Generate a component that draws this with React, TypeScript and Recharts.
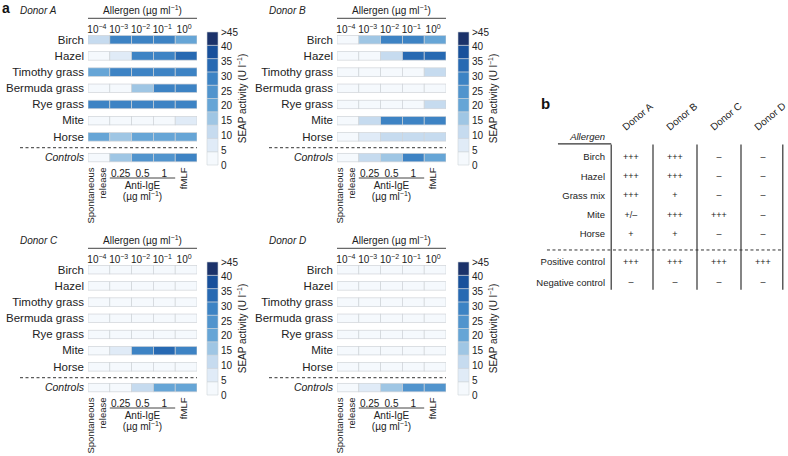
import React from 'react';
import { ScatterChart, Scatter, XAxis, YAxis, ReferenceLine, BarChart, Bar } from 'recharts';

const FONT = '"Liberation Sans", Arial, Helvetica, sans-serif';
const INK = '#222';

// ---------- data ----------
const allergens = ['Birch', 'Hazel', 'Timothy grass', 'Bermuda grass', 'Rye grass', 'Mite', 'Horse'];
const controlsName = 'Controls';
const concExponents = ['−4', '−3', '−2', '−1', '0'];
const controlTicks = ['Spontaneous release', '0.25', '0.5', '1', 'fMLF'];

// SEAP activity (U/l) per allergen row, columns 10^-4 .. 10^0
const donorA = [
  [12, 32, 32, 32, 22],
  [2, 7, 32, 32, 37],
  [22, 32, 32, 32, 32],
  [2, 2, 17, 32, 32],
  [32, 32, 32, 32, 32],
  [2, 2, 2, 2, 7],
  [22, 17, 22, 22, 22],
];
const donorAControls = [2, 17, 27, 27, 32];

const donorB = [
  [2, 17, 32, 32, 22],
  [2, 2, 12, 37, 37],
  [2, 2, 2, 2, 12],
  [2, 2, 2, 2, 2],
  [2, 2, 2, 2, 12],
  [2, 12, 32, 32, 32],
  [2, 7, 12, 12, 12],
];
const donorBControls = [2, 12, 17, 32, 22];

const donorC = [
  [2, 2, 2, 2, 2],
  [2, 2, 2, 2, 2],
  [2, 2, 2, 2, 2],
  [2, 2, 2, 2, 2],
  [2, 2, 2, 2, 2],
  [2, 7, 32, 37, 32],
  [2, 2, 2, 2, 2],
];
const donorCControls = [2, 2, 12, 22, 22];

const donorD = [
  [2, 2, 2, 2, 2],
  [2, 2, 2, 2, 2],
  [2, 2, 2, 2, 2],
  [2, 2, 2, 2, 2],
  [2, 2, 2, 2, 2],
  [2, 2, 2, 2, 2],
  [2, 2, 2, 2, 2],
];
const donorDControls = [2, 7, 17, 27, 27];

const scaleLabels = ['0', '5', '10', '15', '20', '25', '30', '35', '40', '>45'];
const palette = ['#f5f9fd', '#e0ebf7', '#c6dbef', '#9fc6e4', '#66a5d6', '#5194cd', '#3d83c4', '#2769b2', '#18509b', '#1b326a'];

const tableRows = ['Birch', 'Hazel', 'Grass mix', 'Mite', 'Horse', 'Positive control', 'Negative control'];
const tableDonors = ['Donor A', 'Donor B', 'Donor C', 'Donor D'];
const tableA = ['+++', '+++', '+++', '+/–', '+', '+++', '–'];
const tableB = ['+++', '+++', '+', '+++', '+', '+++', '–'];
const tableC = ['–', '–', '–', '+++', '–', '+++', '–'];
const tableD = ['–', '–', '–', '–', '–', '+++', '–'];

// ---------- layout constants ----------
const PANEL_W = 200;
const PANEL_H = 232;
const Y_AXIS_W = 88;
const MARGIN = { top: 16, right: 3, bottom: 16, left: 0 };
const TOP_AXIS_H = 14;
const BOTTOM_AXIS_H = 50;
const PLOT_X = MARGIN.left + Y_AXIS_W;
const PLOT_W = PANEL_W - MARGIN.left - MARGIN.right - Y_AXIS_W;
const PLOT_TOP = MARGIN.top + TOP_AXIS_H;
const PLOT_BOTTOM = PANEL_H - MARGIN.bottom - BOTTOM_AXIS_H;
const COL_W = PLOT_W / 5;
const CELL_H = 8.5;
const CTRL_Y = 7.28;
const DASH_Y = 6.67;

const levelColor = (v: number) => palette[Math.min(9, Math.max(0, Math.floor(v / 5)))];

const HeatCell = (p: any) => {
  const { cx, cy, payload } = p;
  if (cx == null || cy == null) return null;
  return (
    <rect
      x={cx - COL_W / 2}
      y={cy - CELL_H / 2}
      width={COL_W}
      height={CELL_H}
      fill={levelColor(payload.v)}
      stroke="#cfd3d8"
      strokeWidth={0.7}
    />
  );
};

const TopTick = (p: any) => {
  const { x, payload } = p;
  const exp = concExponents[Math.round(payload.value)];
  return (
    <text x={x - 2} y={PLOT_TOP + 3} textAnchor="middle" fontSize={10} fill={INK} fontFamily={FONT}>
      10
      <tspan dy={-4} fontSize={7}>{exp}</tspan>
    </text>
  );
};

const BottomTick = (p: any) => {
  const { x, payload } = p;
  const y = PLOT_BOTTOM;
  const i = Math.round(payload.value);
  const lbl = controlTicks[i];
  if (i === 0) {
    const [a, b] = lbl.split(' ');
    return (
      <g fontSize={9.5} fill={INK} fontFamily={FONT}>
        <text transform={`translate(${x - 5.4},${y + 1.5}) rotate(-90)`} textAnchor="end" fill={INK}>{a}</text>
        <text transform={`translate(${x + 6.6},${y + 1.5}) rotate(-90)`} textAnchor="end" fill={INK}>{b}</text>
      </g>
    );
  }
  if (i === 4) {
    return (
      <text transform={`translate(${x + 0.5},${y + 1.5}) rotate(-90)`} textAnchor="end" fontSize={9.5} fill={INK} fontFamily={FONT}>
        {lbl}
      </text>
    );
  }
  return (
    <text x={x} y={y + 10.5} textAnchor="middle" fontSize={10} fill={INK} fontFamily={FONT}>
      {lbl}
    </text>
  );
};

const RowTick = (p: any) => {
  const { x, y, payload, rowNames } = p;
  const v = payload.value;
  const idx = rowNames.findIndex((_: string, i: number) => Math.abs(i - v) < 0.01);
  const isCtrl = idx < 0;
  return (
    <text
      x={x}
      y={y + 3.8}
      textAnchor="end"
      fontSize={isCtrl ? 10.5 : 11.5}
      fill={INK}
      fontFamily={FONT}
      fontStyle={isCtrl ? 'italic' : 'normal'}
    >
      {isCtrl ? controlsName : rowNames[idx]}
    </text>
  );
};

const TopLabel = (p: any) => {
  const x = PLOT_X;
  const y = MARGIN.top;
  return (
    <g fontFamily={FONT} fill={INK}>
      <text x={20} y={y - 2} fontSize={10} fontStyle="italic" fill={INK}>{p.donor}</text>
      <text x={x + PLOT_W / 2} y={y - 2} fontSize={10} textAnchor="middle" fill={INK}>
        Allergen (µg ml
        <tspan dy={-4} fontSize={7}>−1</tspan>
        <tspan dy={4}>)</tspan>
      </text>
      <line x1={x} x2={x + PLOT_W} y1={y + 2.3} y2={y + 2.3} stroke="#444" strokeWidth={1} />
    </g>
  );
};

const BottomLabel = () => {
  const x = PLOT_X;
  const y = PLOT_BOTTOM;
  return (
    <g fontFamily={FONT} fill={INK}>
      <line x1={x + COL_W} x2={x + 4 * COL_W} y1={y + 12} y2={y + 12} stroke="#444" strokeWidth={1} />
      <text x={x + 2.5 * COL_W} y={y + 22.5} fontSize={10} textAnchor="middle" fill={INK}>Anti-IgE</text>
      <text x={x + 2.5 * COL_W} y={y + 34} fontSize={10} textAnchor="middle" fill={INK}>
        (µg ml
        <tspan dy={-4} fontSize={7}>−1</tspan>
        <tspan dy={4}>)</tspan>
      </text>
    </g>
  );
};

function HeatPanel({ donor, rows, controls, left, top }: any) {
  const data: any[] = [];
  rows.forEach((r: number[], i: number) => r.forEach((v, j) => data.push({ x: j, y: i, v })));
  controls.forEach((v: number, j: number) => data.push({ x: j, y: CTRL_Y, v }));
  const rowTicks = [...allergens.map((_, i) => i), CTRL_Y];
  const dashStart = -0.5 - 68 / COL_W;
  return (
    <div style={{ position: 'absolute', left, top }}>
      <ScatterChart width={PANEL_W} height={PANEL_H} margin={MARGIN}>
        <XAxis
          xAxisId="top"
          orientation="top"
          type="number"
          dataKey="x"
          domain={[-0.5, 4.5]}
          ticks={[0, 1, 2, 3, 4]}
          height={TOP_AXIS_H}
          axisLine={false}
          tickLine={false}
          tickSize={0}
          tickMargin={0}
          allowDataOverflow
          tick={(p: any) => <TopTick {...p} />}
          label={<TopLabel donor={donor} />}
        />
        <XAxis
          xAxisId="bot"
          orientation="bottom"
          type="number"
          dataKey="x"
          domain={[-0.5, 4.5]}
          ticks={[0, 1, 2, 3, 4]}
          height={BOTTOM_AXIS_H}
          axisLine={false}
          tickLine={false}
          tickSize={0}
          tickMargin={0}
          allowDataOverflow
          tick={(p: any) => <BottomTick {...p} />}
          label={<BottomLabel />}
        />
        <YAxis
          type="number"
          dataKey="y"
          domain={[-0.6, 7.8]}
          reversed
          ticks={rowTicks}
          width={Y_AXIS_W}
          axisLine={false}
          tickLine={false}
          tickSize={0}
          tickMargin={4}
          allowDataOverflow
          interval={0}
          tick={(p: any) => <RowTick {...p} rowNames={allergens} />}
        />
        <ReferenceLine
          xAxisId="top"
          segment={[{ x: dashStart, y: DASH_Y }, { x: 4.5, y: DASH_Y }]}
          ifOverflow="visible"
          stroke="#333"
          strokeWidth={1}
          strokeDasharray="3 2.5"
        />
        <Scatter xAxisId="top" data={data} isAnimationActive={false} shape={(p: any) => <HeatCell {...p} />} />
      </ScatterChart>
    </div>
  );
}

const cbData = [Object.fromEntries(palette.map((_, i) => [`s${i}`, 1]).concat([['name', 'bar']]))];
const CB_MARGIN = { top: 32, right: 0, bottom: 35, left: 7 };
const CB_W = 62;
const CB_H = 200;
const CB_AXIS_W = 44;

const CbLabel = () => {
  const cx = CB_W - CB_AXIS_W + 28;
  const cy = CB_MARGIN.top + (CB_H - CB_MARGIN.top - CB_MARGIN.bottom) / 2;
  return (
    <text transform={`translate(${cx},${cy}) rotate(-90)`} textAnchor="middle" fontSize={10} fill={INK} fontFamily={FONT}>
      SEAP activity (U l
      <tspan dy={-4} fontSize={7}>−1</tspan>
      <tspan dy={4}>)</tspan>
    </text>
  );
};

function ColorBar({ left, top }: any) {
  const ticks = scaleLabels.map((_, i) => (i * 10) / 9);
  return (
    <div style={{ position: 'absolute', left, top }}>
      <BarChart width={CB_W} height={CB_H} data={cbData} margin={CB_MARGIN} barCategoryGap={0}>
        <XAxis dataKey="name" hide />
        <YAxis
          orientation="right"
          type="number"
          domain={[0, 10]}
          ticks={ticks}
          interval={0}
          width={CB_AXIS_W}
          axisLine={false}
          tickLine={false}
          tickSize={0}
          tickMargin={3}
          tickFormatter={(v: number) => scaleLabels[Math.round((v * 9) / 10)]}
          tick={{ fontSize: 10, fill: INK, fontFamily: FONT }}
          label={<CbLabel />}
        />
        {palette.map((c, i) => (
          <Bar key={i} dataKey={`s${i}`} stackId="a" fill={c} stroke="#cfd3d8" strokeWidth={0.6} isAnimationActive={false} />
        ))}
      </BarChart>
    </div>
  );
}

// ---------- table (panel b) ----------
const T_ROW_Y = [0, 1, 2, 3, 4, 5.45, 6.5];
const T_ALLERGEN_Y = -1.04;

const TableTopTick = (p: any) => {
  const { x, y, payload } = p;
  const lbl = tableDonors[Math.round(payload.value)];
  return (
    <text transform={`translate(${x - 5},${y - 12.5}) rotate(-40)`} fontSize={10} fill={INK} fontFamily={FONT}>
      {lbl}
    </text>
  );
};

const TableRowTick = (p: any) => {
  const { x, y, payload } = p;
  const v = payload.value;
  const idx = T_ROW_Y.findIndex((r) => Math.abs(r - v) < 0.01);
  const isHead = idx < 0;
  return (
    <text x={x} y={y + 3.5} textAnchor="end" fontSize={9.5} fill={INK} fontFamily={FONT} fontStyle={isHead ? 'italic' : 'normal'}>
      {isHead ? 'Allergen' : tableRows[idx]}
    </text>
  );
};

const TableCell = (p: any) => {
  const { cx, cy, payload } = p;
  if (cx == null || cy == null) return null;
  return (
    <text x={cx} y={cy + 3} textAnchor="middle" fontSize={9} fill={INK} fontFamily={FONT}>
      {payload.v}
    </text>
  );
};

function Table({ left, top }: any) {
  const cols = [tableA, tableB, tableC, tableD];
  const data: any[] = [];
  cols.forEach((col, j) => col.forEach((v, i) => data.push({ x: j, y: T_ROW_Y[i], v })));
  const vLines = [-0.45, 0.5, 1.5, 2.5, 3.45];
  return (
    <div style={{ position: 'absolute', left, top }}>
      <ScatterChart width={263} height={215} margin={{ top: 13.5, right: 3, bottom: 9.4, left: 0 }}>
        <XAxis
          orientation="top"
          type="number"
          dataKey="x"
          domain={[-0.5, 3.5]}
          ticks={[0, 1, 2, 3]}
          height={40}
          axisLine={false}
          tickLine={false}
          tickSize={0}
          tickMargin={0}
          allowDataOverflow
          tick={(p: any) => <TableTopTick {...p} />}
        />
        <YAxis
          type="number"
          dataKey="y"
          domain={[-0.7, 7.2]}
          reversed
          ticks={[T_ALLERGEN_Y, ...T_ROW_Y]}
          interval={0}
          width={84}
          axisLine={false}
          tickLine={false}
          tickSize={0}
          tickMargin={4}
          allowDataOverflow
          tick={(p: any) => <TableRowTick {...p} />}
        />
        <ReferenceLine segment={[{ x: -1.66, y: -0.68 }, { x: -0.45, y: -0.68 }]} ifOverflow="visible" stroke="#333" strokeWidth={1.2} />
        {vLines.map((x) => (
          <ReferenceLine key={x} segment={[{ x, y: -0.65 }, { x, y: 6.9 }]} ifOverflow="visible" stroke="#333" strokeWidth={1.2} />
        ))}
        <ReferenceLine segment={[{ x: -1.91, y: 4.83 }, { x: 3.45, y: 4.83 }]} ifOverflow="visible" stroke="#333" strokeWidth={1} strokeDasharray="3 2.5" />
        <Scatter data={data} isAnimationActive={false} shape={(p: any) => <TableCell {...p} />} />
      </ScatterChart>
    </div>
  );
}

export default function App() {
  return (
    <div style={{ position: 'absolute', left: 0, top: 0, width: 788, height: 456, background: '#fff', fontFamily: FONT, overflow: 'hidden' }}>
      <div style={{ position: 'absolute', left: 2, top: 0, fontSize: 14, fontWeight: 'bold', color: '#111' }}>a</div>
      <div style={{ position: 'absolute', left: 541, top: 95, fontSize: 15, fontWeight: 'bold', color: '#111' }}>b</div>
      <HeatPanel donor="Donor A" rows={donorA} controls={donorAControls} left={0} top={0} />
      <ColorBar left={200} top={0} />
      <HeatPanel donor="Donor B" rows={donorB} controls={donorBControls} left={249} top={0} />
      <ColorBar left={451} top={0} />
      <HeatPanel donor="Donor C" rows={donorC} controls={donorCControls} left={0} top={230} />
      <ColorBar left={200} top={230} />
      <HeatPanel donor="Donor D" rows={donorD} controls={donorDControls} left={249} top={230} />
      <ColorBar left={451} top={230} />
      <Table left={525} top={90} />
    </div>
  );
}
